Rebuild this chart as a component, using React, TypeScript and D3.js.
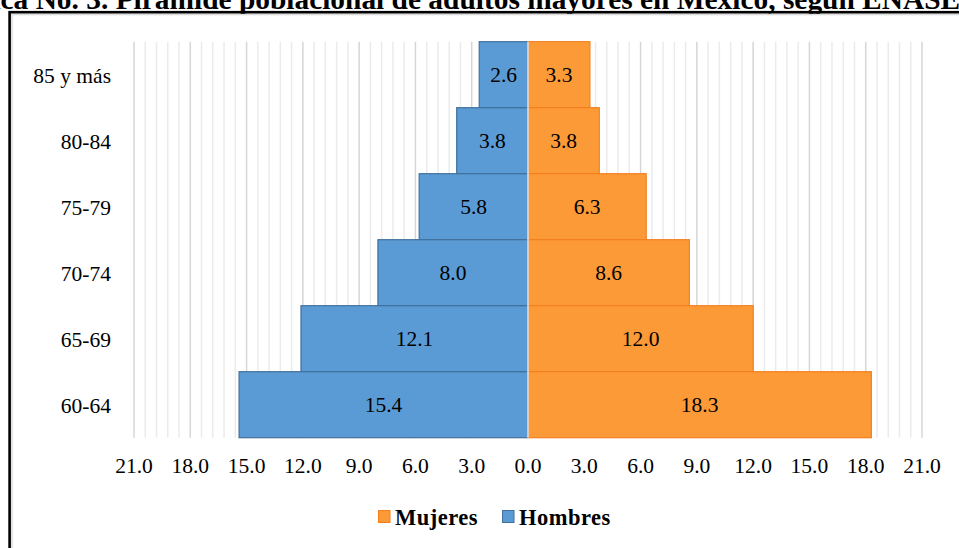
import React from "react";
import * as d3 from "d3";

const categories = ["85 y más", "80-84", "75-79", "70-74", "65-69", "60-64"];
const hombres = [2.6, 3.8, 5.8, 8.0, 12.1, 15.4];
const mujeres = [3.3, 3.8, 6.3, 8.6, 12.0, 18.3];
const tickValues = [-21, -18, -15, -12, -9, -6, -3, 0, 3, 6, 9, 12, 15, 18, 21];
const titleText = "Gráfica No. 3. Pirámide poblacional de adultos mayores en México, según ENASEM";
const legendItems = [
  { name: "Mujeres", color: "#FD9A38", stroke: "#F47F1E" },
  { name: "Hombres", color: "#5B9BD5", stroke: "#41719C" },
];

const W = 959;
const H = 548;
const FONT = "Liberation Serif, Times New Roman, serif";

export default function App() {
  const x = d3.scaleLinear().domain([-21, 21]).range([134, 922]);
  const y = d3.scaleBand<string>().domain(categories).range([41.7, 437.7]).padding(0);
  const minor = d3.range(-21, 21.0001, 0.6).map((v) => Math.round(v * 10) / 10);
  const fmt = d3.format(".1f");
  const ts = { fontFamily: FONT };

  return (
    <svg
      width={W}
      height={H}
      style={{ position: "absolute", left: 0, top: 0, background: "#fff", fontFamily: FONT }}
    >
      {/* title (cropped at the top, as in the reference) */}
      <text x={-68} y={9} fontSize={29.4} fontWeight="bold" fill="#000" style={ts}>
        {titleText}
      </text>
      {/* frame */}
      <rect x={12} y={14.5} width={W + 20} height={H + 20} fill="none" stroke="#dcdcdc" strokeWidth={1.6} />
      <rect x={9.6} y={12.2} width={W + 20} height={H + 20} fill="none" stroke="#000" strokeWidth={2.6} />

      {/* grid */}
      {minor.map((v, i) => {
        const r = Math.abs(v) % 3;
        const major = r < 1e-6 || Math.abs(r - 3) < 1e-6;
        return (
          <line
            key={"g" + i}
            x1={x(v)}
            x2={x(v)}
            y1={41.7}
            y2={437.7}
            stroke={major ? "#d6d6d6" : "#ebebeb"}
            strokeWidth={1.5}
          />
        );
      })}

      {/* bars */}
      {categories.map((c, i) => (
        <g key={"b" + i}>
          <rect
            x={x(-hombres[i])}
            y={y(c)!}
            width={x(0) - x(-hombres[i])}
            height={y.bandwidth()}
            fill="#5B9BD5"
            stroke="#41719C"
            strokeWidth={1.2}
          />
          <rect
            x={x(0)}
            y={y(c)!}
            width={x(mujeres[i]) - x(0)}
            height={y.bandwidth()}
            fill="#FD9A38"
            stroke="#F47F1E"
            strokeWidth={1.2}
          />
        </g>
      ))}
      <line x1={x(0)} x2={x(0)} y1={41.7} y2={437.7} stroke="#dfe8f2" strokeWidth={1.4} />

      {/* data labels */}
      {categories.map((c, i) => (
        <g key={"l" + i} fontSize={21.5} fill="#000">
          <text
            x={(x(-hombres[i]) + x(0)) / 2}
            y={y(c)! + y.bandwidth() / 2 + 7}
            textAnchor="middle"
            style={ts}
          >
            {fmt(hombres[i])}
          </text>
          <text
            x={(x(mujeres[i]) + x(0)) / 2}
            y={y(c)! + y.bandwidth() / 2 + 7}
            textAnchor="middle"
            style={ts}
          >
            {fmt(mujeres[i])}
          </text>
        </g>
      ))}

      {/* category labels */}
      {categories.map((c, i) => (
        <text
          key={"c" + i}
          x={111}
          y={y(c)! + y.bandwidth() / 2 + 8}
          textAnchor="end"
          fontSize={21.5}
          fill="#000"
          style={ts}
        >
          {c}
        </text>
      ))}

      {/* x tick labels */}
      {tickValues.map((v, i) => (
        <text key={"t" + i} x={x(v)} y={473} textAnchor="middle" fontSize={21.5} fill="#000" style={ts}>
          {fmt(Math.abs(v))}
        </text>
      ))}

      {/* legend */}
      <g>
        <rect x={378.5} y={510.5} width={11.5} height={12} fill={legendItems[0].color} stroke={legendItems[0].stroke} strokeWidth={1} />
        <text x={395} y={525} fontSize={22.5} fontWeight="bold" fill="#000" letterSpacing={0.5} style={ts}>
          {legendItems[0].name}
        </text>
        <rect x={502.5} y={510.5} width={11.5} height={12} fill={legendItems[1].color} stroke={legendItems[1].stroke} strokeWidth={1} />
        <text x={519} y={525} fontSize={22.5} fontWeight="bold" fill="#000" letterSpacing={0.5} style={ts}>
          {legendItems[1].name}
        </text>
      </g>
    </svg>
  );
}
